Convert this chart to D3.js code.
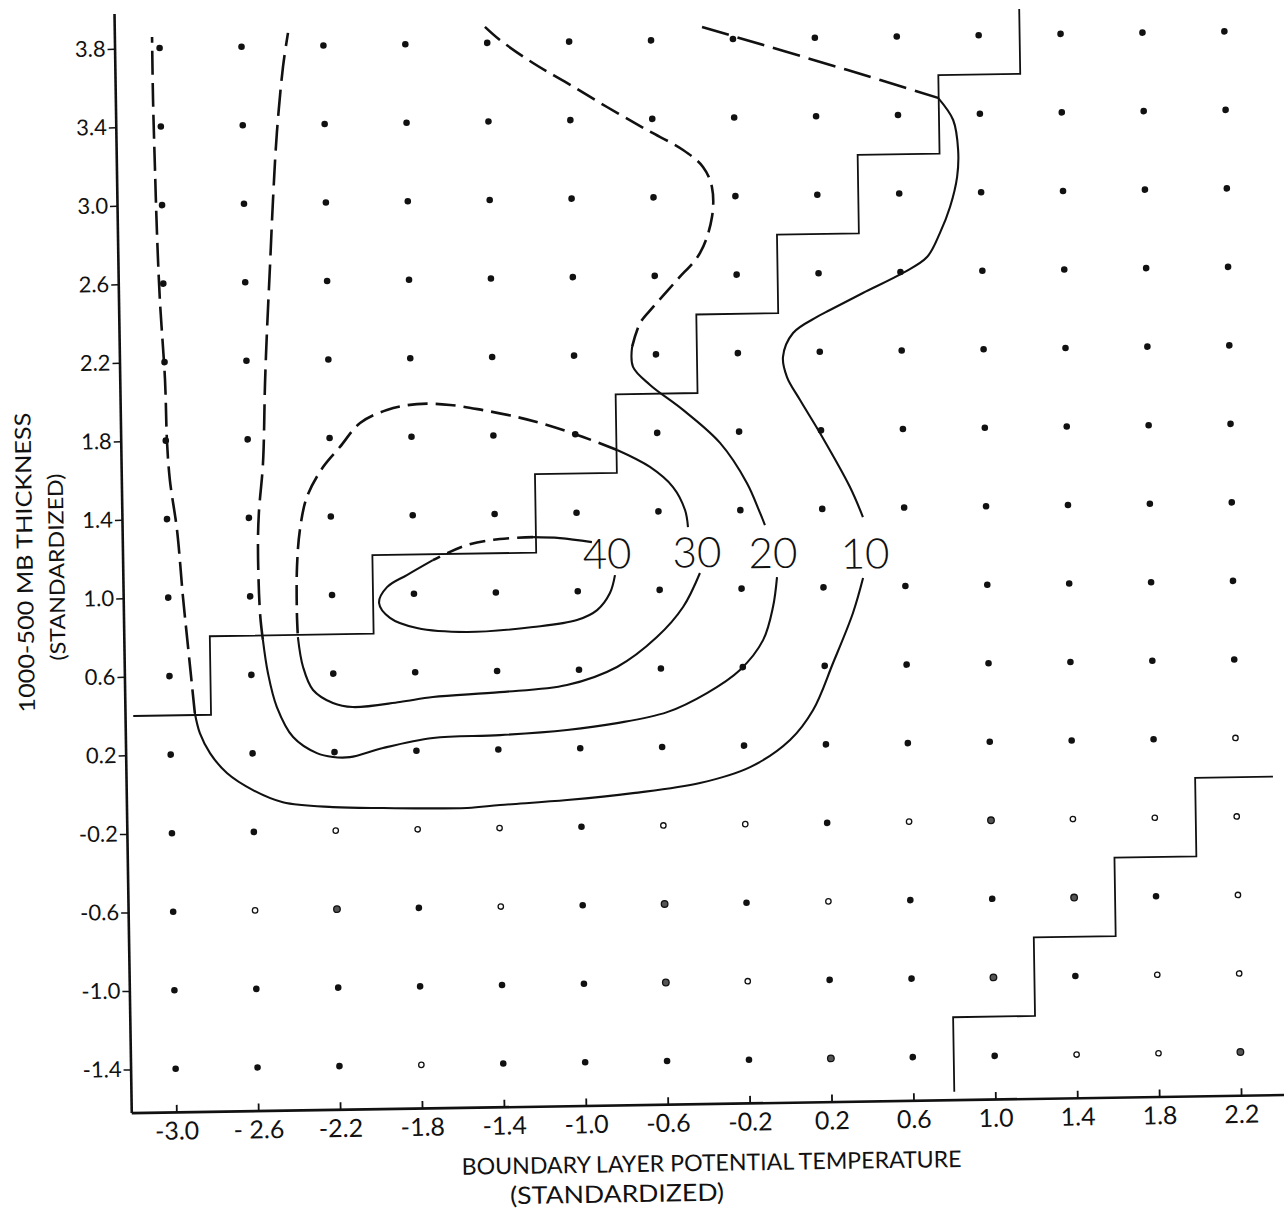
<!DOCTYPE html>
<html>
<head>
<meta charset="utf-8">
<script src="https://cdn.jsdelivr.net/npm/d3@7"></script>
<style>
  body { margin: 0; background: #fff; }
  svg { display: block; }
  .tick text { font-family: Lato, "Open Sans", sans-serif; fill: #111; }
</style>
</head>
<body>
<div id="chart"></div>
<script>
// grid of the standardized predictors
const xTicks = [-3.0, -2.6, -2.2, -1.8, -1.4, -1.0, -0.6, -0.2, 0.2, 0.6, 1.0, 1.4, 1.8, 2.2]
const xTickLabels = ["-3.0", "- 2.6", "-2.2", "-1.8", "-1.4", "-1.0", "-0.6", "-0.2", "0.2", "0.6", "1.0", "1.4", "1.8", "2.2"]
const yTicks = [-1.4, -1.0, -0.6, -0.2, 0.2, 0.6, 1.0, 1.4, 1.8, 2.2, 2.6, 3.0, 3.4, 3.8]
const yTickLabels = ["-1.4", "-1.0", "-0.6", "-0.2", "0.2", "0.6", "1.0", "1.4", "1.8", "2.2", "2.6", "3.0", "3.4", "3.8"]

// grid points drawn as open / half-filled circles (all others filled)
const openDots = [
  [-2.2, -0.2], [-1.8, -0.2], [-1.4, -0.2], [-0.6, -0.2], [-0.2, -0.2], [0.6, -0.2], [1.4, -0.2], [1.8, -0.2], [2.2, -0.2],
  [-2.6, -0.6], [-1.4, -0.6], [0.2, -0.6], [2.2, -0.6],
  [-0.2, -1.0], [1.8, -1.0], [2.2, -1.0],
  [-1.8, -1.4], [1.4, -1.4], [1.8, -1.4],
  [2.2, 0.2]
]
const halfDots = [
  [1.0, -0.2], [-2.2, -0.6], [-0.6, -0.6], [1.4, -0.6], [-0.6, -1.0], [1.0, -1.0], [0.2, -1.4], [2.2, -1.4]
]

// step boundaries
const upperStairs = [[-3.18, 0.4], [-2.8, 0.4], [-2.8, 0.8], [-2.0, 0.8], [-2.0, 1.2], [-1.2, 1.2], [-1.2, 1.6], [-0.8, 1.6],
  [-0.8, 2.0], [-0.4, 2.0], [-0.4, 2.4], [0.0, 2.4], [0.0, 2.8], [0.4, 2.8], [0.4, 3.2], [0.8, 3.2], [0.8, 3.6], [1.2, 3.6], [1.2, 3.93]]
const lowerStairs = [[0.8, -1.58], [0.8, -1.2], [1.2, -1.2], [1.2, -0.8], [1.6, -0.8], [1.6, -0.4], [2.0, -0.4], [2.0, 0.0], [2.38, 0.0]]

// 40 contour
const c40Top = [[-0.927, 1.249], [-1.083, 1.272], [-1.214, 1.279]]
const c40TopDash = [[-1.214, 1.279], [-1.376, 1.272], [-1.537, 1.244], [-1.705, 1.17]]
const c40Loop = [[-1.705, 1.17], [-1.833, 1.096], [-1.931, 1.036], [-1.971, 0.956], [-1.919, 0.879], [-1.788, 0.825],
  [-1.544, 0.801], [-1.221, 0.821], [-1.006, 0.853], [-0.907, 0.902], [-0.843, 0.988], [-0.817, 1.079]]

// 30 contour
const c30Upper = [[-0.457, 1.318], [-0.47, 1.405], [-0.527, 1.523], [-0.638, 1.627], [-0.797, 1.716]]
const c30Dash = [[-0.797, 1.716], [-0.962, 1.785], [-1.137, 1.849], [-1.283, 1.892], [-1.449, 1.93], [-1.609, 1.959],
  [-1.771, 1.966], [-1.918, 1.938], [-2.05, 1.874], [-2.15, 1.754], [-2.234, 1.653], [-2.315, 1.502], [-2.352, 1.334],
  [-2.369, 1.145], [-2.373, 0.911], [-2.37, 0.789]]
const c30Lower = [[-2.37, 0.789], [-2.347, 0.636], [-2.3, 0.518], [-2.204, 0.45], [-2.107, 0.428], [-1.877, 0.45],
  [-1.715, 0.473], [-1.387, 0.492], [-1.06, 0.523], [-0.814, 0.611], [-0.617, 0.76], [-0.487, 0.911], [-0.402, 1.083]]

// 20 contour
const c20RightDash = [[-1.41, 3.882], [-1.338, 3.814], [-1.178, 3.694], [-1.014, 3.59], [-0.82, 3.464], [-0.627, 3.344],
  [-0.452, 3.239], [-0.356, 3.151], [-0.314, 3.048], [-0.316, 2.895], [-0.377, 2.713], [-0.492, 2.577], [-0.611, 2.441],
  [-0.675, 2.361], [-0.716, 2.24]]
const c20Upper = [[-0.716, 2.24], [-0.713, 2.138], [-0.631, 2.045], [-0.472, 1.915], [-0.294, 1.744], [-0.166, 1.538],
  [-0.104, 1.384], [-0.081, 1.322]]
const c20Lower = [[-0.026, 1.056], [-0.048, 0.904], [-0.099, 0.736], [-0.214, 0.586], [-0.377, 0.471], [-0.573, 0.377],
  [-0.818, 0.325], [-1.063, 0.294], [-1.391, 0.273], [-1.718, 0.264], [-1.963, 0.217], [-2.125, 0.173], [-2.208, 0.175],
  [-2.286, 0.196], [-2.401, 0.28], [-2.478, 0.434], [-2.519, 0.608], [-2.541, 0.777]]
const c20LeftDash = [[-2.541, 0.777], [-2.553, 0.914], [-2.558, 1.25], [-2.551, 1.424], [-2.527, 1.678], [-2.511, 2.085],
  [-2.498, 2.34], [-2.478, 2.676], [-2.458, 3.017], [-2.434, 3.358], [-2.399, 3.694], [-2.372, 3.867]]

// 10 contour
const c10TopDash = [[-0.35, 3.864], [0.354, 3.634], [0.797, 3.484]]
const c10Upper = [[0.797, 3.484], [0.869, 3.37], [0.891, 3.217], [0.884, 3.08], [0.847, 2.927], [0.796, 2.796],
  [0.731, 2.674], [0.612, 2.595], [0.415, 2.496], [0.253, 2.412], [0.189, 2.378], [0.071, 2.298], [0.02, 2.177],
  [0.038, 2.074], [0.1, 1.956], [0.195, 1.786], [0.337, 1.509], [0.398, 1.355]]
const c10Lower = [[0.394, 1.044], [0.342, 0.867], [0.241, 0.614], [0.14, 0.376], [0.025, 0.225], [-0.172, 0.09],
  [-0.418, 0.013], [-0.746, -0.033], [-1.068, -0.063], [-1.396, -0.083], [-1.557, -0.095], [-1.967, -0.089],
  [-2.212, -0.08], [-2.456, -0.051], [-2.601, 0.013], [-2.727, 0.102], [-2.808, 0.205], [-2.856, 0.307], [-2.879, 0.41]]
const c10LeftDash = [[-2.879, 0.41], [-2.907, 0.747], [-2.928, 1.002], [-2.952, 1.344], [-2.983, 1.599], [-2.994, 1.793],
  [-2.999, 2.109], [-3.018, 2.517], [-3.027, 2.858], [-3.032, 3.195], [-3.036, 3.536], [-3.036, 3.857]]

const contourLabels = ["40", "30", "20", "10"]
const contourLabelX = [-0.854, -0.415, -0.044, 0.406]
const contourLabelY = [1.19, 1.19, 1.18, 1.17]

const width = 1284, height = 1210

const svg = d3.select("#chart")
  .append("svg")
  .attr("width", width)
  .attr("height", height)
  .attr("viewBox", `0 0 ${width} ${height}`)

// the scanned figure sits slightly tilted on the page
const g = svg.append("g")
  .attr("transform", "rotate(-0.9, 700, 550)")

const xScale = d3.scaleLinear().domain([-3.22, 2.42]).range([122.5, 1277.5])
const yScale = d3.scaleLinear().domain([-1.62, 3.98]).range([1103.6, 4.3])

const xAxis = d3.axisBottom(xScale)
  .tickValues(xTicks)
  .tickFormat((d, i) => xTickLabels[i])
  .tickSizeInner(-7)
  .tickSizeOuter(0)
  .tickPadding(10)

const yAxis = d3.axisLeft(yScale)
  .tickValues(yTicks)
  .tickFormat((d, i) => yTickLabels[i])
  .tickSizeInner(7)
  .tickSizeOuter(0)
  .tickPadding(2)

const xAxisGroup = g.append("g")
  .attr("transform", `translate(0,${yScale(-1.62)})`)
  .call(xAxis)
xAxisGroup.select(".domain").attr("stroke", "#111").attr("stroke-width", 2.6)
xAxisGroup.selectAll(".tick line").attr("stroke", "#111").attr("stroke-width", 1.8)
xAxisGroup.selectAll(".tick text").attr("font-size", 25)

const yAxisGroup = g.append("g")
  .attr("transform", `translate(${xScale(-3.22)},0)`)
  .call(yAxis)
yAxisGroup.select(".domain").attr("stroke", "#111").attr("stroke-width", 2.6)
yAxisGroup.selectAll(".tick line").attr("stroke", "#111").attr("stroke-width", 1.5)
yAxisGroup.selectAll(".tick text").attr("font-size", 22)

// grid points
const key = p => p[0].toFixed(1) + "," + p[1].toFixed(1)
const openSet = new Set(openDots.map(key))
const halfSet = new Set(halfDots.map(key))
const points = []
yTicks.forEach(yv => xTicks.forEach(xv => points.push([xv, yv])))

g.append("g").selectAll("circle")
  .data(points)
  .enter().append("circle")
  .attr("cx", d => xScale(d[0]))
  .attr("cy", d => yScale(d[1]))
  .attr("r", d => openSet.has(key(d)) ? 2.7 : 3.3)
  .attr("fill", d => openSet.has(key(d)) ? "#fff" : halfSet.has(key(d)) ? "#555" : "#111")
  .attr("stroke", "#111")
  .attr("stroke-width", d => openSet.has(key(d)) || halfSet.has(key(d)) ? 1.3 : 0)

// step boundaries
const stepLine = d3.line().x(d => xScale(d[0])).y(d => yScale(d[1]))
g.append("g").selectAll("path")
  .data([upperStairs, lowerStairs])
  .enter().append("path")
  .attr("d", stepLine)
  .attr("fill", "none")
  .attr("stroke", "#111")
  .attr("stroke-width", 1.8)

// contours
const curve = d3.line()
  .x(d => xScale(d[0]))
  .y(d => yScale(d[1]))
  .curve(d3.curveCatmullRom.alpha(0.5))

const segments = [
  {pts: c40Top, dash: null}, {pts: c40TopDash, dash: "16 8"}, {pts: c40Loop, dash: null},
  {pts: c30Upper, dash: null}, {pts: c30Dash, dash: "20 8"}, {pts: c30Lower, dash: null},
  {pts: c20RightDash, dash: "20 8"}, {pts: c20Upper, dash: null}, {pts: c20Lower, dash: null}, {pts: c20LeftDash, dash: "26 9"},
  {pts: c10TopDash, dash: "28 9"}, {pts: c10Upper, dash: null}, {pts: c10Lower, dash: null}, {pts: c10LeftDash, dash: "24 8"}
]

g.append("g").selectAll("path")
  .data(segments)
  .enter().append("path")
  .attr("d", d => curve(d.pts))
  .attr("fill", "none")
  .attr("stroke", "#111")
  .attr("stroke-width", d => d.dash ? 2.6 : 2.1)
  .attr("stroke-dasharray", d => d.dash)

g.append("g").selectAll("text")
  .data(contourLabels)
  .enter().append("text")
  .attr("x", (d, i) => xScale(contourLabelX[i]))
  .attr("y", (d, i) => yScale(contourLabelY[i]))
  .attr("dy", "0.36em")
  .attr("text-anchor", "middle")
  .attr("font-family", "Lato, 'Open Sans', sans-serif")
  .attr("font-weight", 300)
  .attr("font-size", 42)
  .attr("fill", "#111")
  .text(d => d)

// axis titles
g.append("text")
  .attr("x", 702).attr("y", 1171)
  .attr("text-anchor", "middle")
  .attr("font-family", "Lato, 'Open Sans', sans-serif")
  .attr("font-size", 23)
  .attr("textLength", 500)
  .attr("lengthAdjust", "spacingAndGlyphs")
  .attr("fill", "#111")
  .text("BOUNDARY LAYER POTENTIAL TEMPERATURE")

g.append("text")
  .attr("x", 607).attr("y", 1201)
  .attr("text-anchor", "middle")
  .attr("font-family", "Lato, 'Open Sans', sans-serif")
  .attr("font-size", 24)
  .attr("textLength", 214)
  .attr("lengthAdjust", "spacingAndGlyphs")
  .attr("fill", "#111")
  .text("(STANDARDIZED)")

g.append("text")
  .attr("transform", "translate(32.5,552) rotate(-90)")
  .attr("text-anchor", "middle")
  .attr("font-family", "Lato, 'Open Sans', sans-serif")
  .attr("font-size", 22)
  .attr("textLength", 300)
  .attr("lengthAdjust", "spacingAndGlyphs")
  .attr("fill", "#111")
  .text("1000-500 MB THICKNESS")

g.append("text")
  .attr("transform", "translate(64,557) rotate(-90)")
  .attr("text-anchor", "middle")
  .attr("font-family", "Lato, 'Open Sans', sans-serif")
  .attr("font-size", 21)
  .attr("textLength", 187)
  .attr("lengthAdjust", "spacingAndGlyphs")
  .attr("fill", "#111")
  .text("(STANDARDIZED)")
</script>
</body>
</html>
